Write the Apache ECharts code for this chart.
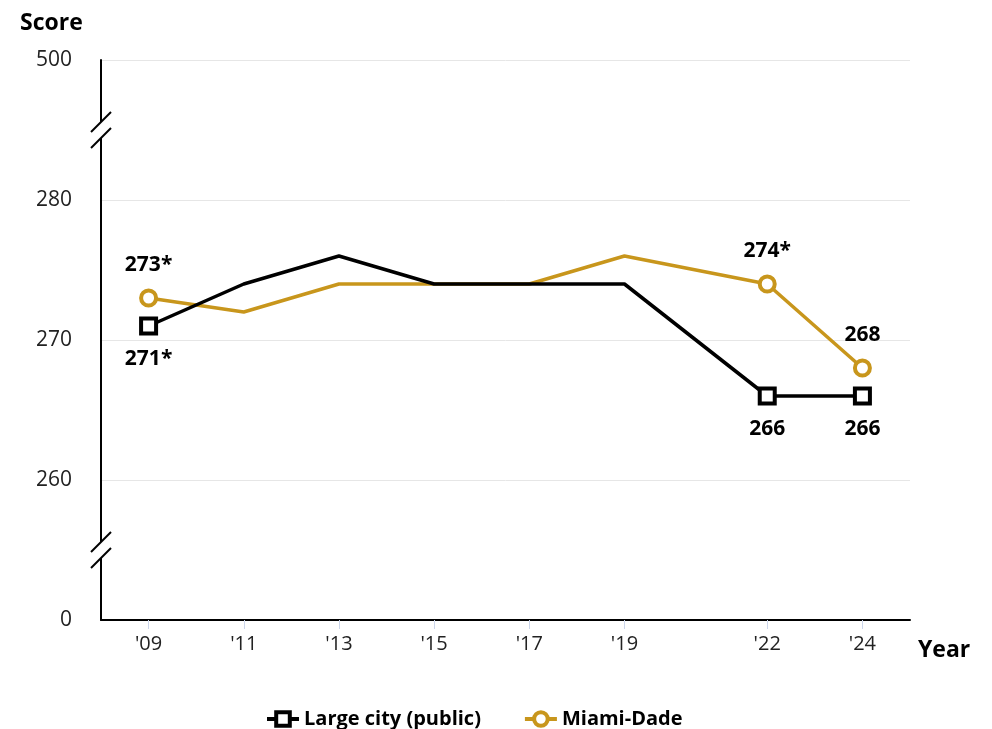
<!DOCTYPE html>
<html>
<head>
<meta charset="utf-8">
<script src="https://cdn.jsdelivr.net/npm/echarts@6/dist/echarts.min.js"></script>
<style>
  html, body { margin: 0; padding: 0; background: #fff; }
  #main { width: 992px; height: 729px; }
</style>
</head>
<body>
<div id="main"></div>
<script>
// years on the x axis (spaced by real year)
var years = [2009, 2011, 2013, 2015, 2017, 2019, 2022, 2024];
// scores
var largeCity = [271, 274, 276, 274, 274, 274, 266, 266];
var miamiDade = [273, 272, 274, 274, 274, 276, 274, 268];
// which points get a marker + label, and the significance star
var shown = [true, false, false, false, false, false, true, true];
var largeCityNote = ['*', '', '', '', '', '', '', ''];
var miamiDadeNote = ['*', '', '', '', '', '', '*', ''];
// y axis is broken: bottom tick means 0, top tick means 500
var yTicks = [250, 260, 270, 280, 290];
var yTickLabels = ['0', '260', '270', '280', '500'];

var FONT = '"Open Sans", "Noto Sans", sans-serif';
var GOLD = '#c8961c';

function buildData(vals, notes) {
  return years.map(function (y, i) {
    var item = { value: [y, vals[i]], note: notes[i] };
    if (!shown[i]) {
      item.symbol = 'none';
      item.label = { show: false };
    }
    return item;
  });
}

var chart = echarts.init(document.getElementById('main'));

var option = {
  animation: false,
  textStyle: { fontFamily: FONT },
  title: [
    { text: 'Score', left: 15, top: 7,
      textStyle: { fontFamily: FONT, fontSize: 23, fontWeight: 'bold', color: '#000' } },
    { text: 'Year', left: 913, top: 634,
      textStyle: { fontFamily: FONT, fontSize: 23, fontWeight: 'bold', color: '#000' } }
  ],
  grid: { left: 101, right: 82, top: 60, bottom: 109 },
  legend: {
    left: 260, top: 704,
    itemWidth: 32, itemHeight: 17, itemGap: 42,
    lineStyle: { width: 4 },
    itemStyle: { borderWidth: 4 },
    textStyle: { fontFamily: FONT, fontSize: 20, fontWeight: 'bold', color: '#000' },
    data: ['Large city (public)', 'Miami-Dade']
  },
  xAxis: {
    type: 'value', min: 2008, max: 2025,
    splitLine: { show: false },
    axisLine: { show: true, lineStyle: { color: '#000', width: 2 } },
    axisTick: { show: true, customValues: years, length: 9, lineStyle: { color: '#ccd6eb', width: 1 } },
    axisLabel: {
      customValues: years, margin: 14,
      fontFamily: FONT, fontSize: 20, color: '#222',
      formatter: function (v) { return "'" + String(v).slice(2); }
    }
  },
  yAxis: {
    type: 'value', min: 250, max: 290, interval: 10,
    axisLine: { show: true, lineStyle: { color: '#000', width: 2 } },
    axisTick: { show: false },
    splitLine: { lineStyle: { color: '#e6e6e6', width: 1 } },
    axisLabel: {
      margin: 29, fontFamily: FONT, fontSize: 21, color: '#222',
      formatter: function (v) {
        var i = yTicks.indexOf(v);
        return i >= 0 ? yTickLabels[i] : '';
      }
    }
  },
  series: [
    {
      name: 'Large city (public)', type: 'line',
      data: buildData(largeCity, largeCityNote),
      symbol: 'rect', symbolSize: 15, showAllSymbol: true,
      lineStyle: { color: '#000', width: 3.5 },
      itemStyle: { color: '#fff', borderColor: '#000', borderWidth: 4 },
      label: {
        show: true, position: 'bottom', distance: 13,
        fontFamily: FONT, fontSize: 21, fontWeight: 'bold', color: '#000',
        formatter: function (p) { return p.value[1] + p.data.note; }
      },
      z: 3
    },
    {
      name: 'Miami-Dade', type: 'line',
      data: buildData(miamiDade, miamiDadeNote),
      symbol: 'circle', symbolSize: 15, showAllSymbol: true,
      lineStyle: { color: GOLD, width: 3.5 },
      itemStyle: { color: '#fff', borderColor: GOLD, borderWidth: 4 },
      label: {
        show: true, position: 'top', distance: 13,
        fontFamily: FONT, fontSize: 21, fontWeight: 'bold', color: '#000',
        formatter: function (p) { return p.value[1] + p.data.note; }
      },
      z: 2
    }
  ]
};

chart.setOption(option);

// axis break marks ("//") on the y axis
function breakMark(val) {
  var p = chart.convertToPixel({ gridIndex: 0 }, [2008, val]);
  var x = p[0], y = p[1];
  return [
    { type: 'rect', shape: { x: x - 3, y: y - 8, width: 6, height: 16 },
      style: { fill: '#fff' }, z: 100 },
    { type: 'line', shape: { x1: x - 10, y1: y + 2, x2: x + 10, y2: y - 18 },
      style: { stroke: '#000', lineWidth: 2 }, z: 101 },
    { type: 'line', shape: { x1: x - 10, y1: y + 18, x2: x + 10, y2: y - 2 },
      style: { stroke: '#000', lineWidth: 2 }, z: 101 }
  ];
}
chart.setOption({ graphic: breakMark(285).concat(breakMark(255)) });
</script>
</body>
</html>
